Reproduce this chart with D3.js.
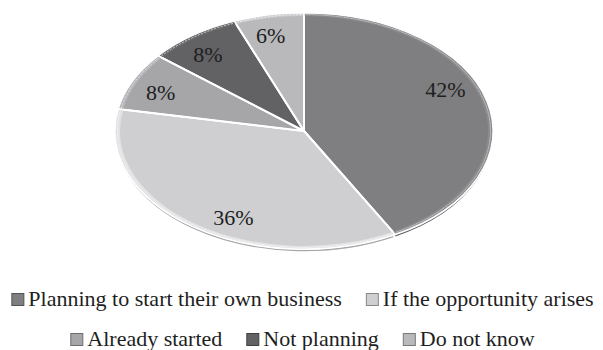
<!DOCTYPE html>
<html>
<head>
<meta charset="utf-8">
<script src="https://cdn.jsdelivr.net/npm/d3@7/dist/d3.min.js"></script>
<style>
  html, body { margin: 0; padding: 0; background: #fff; }
  svg { display: block; }
</style>
</head>
<body>
<svg id="chart" width="603" height="350"></svg>
<script>
// Career intentions, share of respondents (%)
const categories = [
  "Planning to start their own business",
  "If the opportunity arises",
  "Already started",
  "Not planning",
  "Do not know"
];
const values = [42, 36, 8, 8, 6];
const colors = ["#7f7f82", "#cfcfd1", "#a6a6a9", "#626264", "#b9b9bc"];
const legendRows = [[0, 1], [2, 3, 4]];

const FONT = "'Liberation Serif', 'Times New Roman', Tinos, 'DejaVu Serif', serif";
const W = 603, H = 350;
const cx = 304, cy = 131, rx = 189, ry = 118, depth = 3;
const svg = d3.select("#chart");

const pie = d3.pie().sort(null).value(d => d);
const arcs = pie(values);
const arc = d3.arc().innerRadius(0).outerRadius(rx);
const rim = d3.arc().innerRadius(rx - 5).outerRadius(rx);
const rimLine = d3.arc().innerRadius(rx - 2.5).outerRadius(rx - 2.5);

// side of the tilted disc, drawn a few pixels below the top surface
const sideLayer = svg.append("g")
  .attr("transform", `translate(${cx},${cy + depth}) scale(1,${ry / rx})`);
sideLayer.selectAll("path").data(arcs).join("path")
  .attr("d", arc)
  .attr("fill", (d, i) => d3.color(colors[i]).darker(0.6))
  .attr("stroke", "#fff")
  .attr("stroke-width", 1.5)
  .attr("vector-effect", "non-scaling-stroke");

// top surface of each slice
const topLayer = svg.append("g")
  .attr("transform", `translate(${cx},${cy}) scale(1,${ry / rx})`);
topLayer.selectAll("path.slice").data(arcs).join("path")
  .attr("class", "slice")
  .attr("d", arc)
  .attr("fill", (d, i) => colors[i])
  .attr("stroke", "#fff")
  .attr("stroke-width", 2)
  .attr("stroke-linejoin", "round")
  .attr("vector-effect", "non-scaling-stroke");

// bevelled rim along the outer edge
topLayer.selectAll("path.rim").data(arcs).join("path")
  .attr("class", "rim")
  .attr("d", rim)
  .attr("fill", (d, i) => d3.color(colors[i]).brighter(0.25))
  .attr("stroke", "none");
topLayer.selectAll("path.rimline").data(arcs).join("path")
  .attr("class", "rimline")
  .attr("d", d => rimLine({ ...d, startAngle: d.startAngle + 0.01, endAngle: d.endAngle - 0.01 }))
  .attr("fill", "none")
  .attr("stroke", "#ffffff")
  .attr("stroke-opacity", 0.45)
  .attr("stroke-width", 0.8)
  .attr("stroke-dasharray", "2,1.5")
  .attr("vector-effect", "non-scaling-stroke");
// thin white separators at the slice edges
topLayer.selectAll("path.sep").data(arcs).join("path")
  .attr("class", "sep")
  .attr("d", arc)
  .attr("fill", "none")
  .attr("stroke", "#fff")
  .attr("stroke-width", 1.2)
  .attr("vector-effect", "non-scaling-stroke");

// percentage labels, placed a little before each slice's mid angle
const labelAngle = d => d.startAngle + 0.43 * (d.endAngle - d.startAngle);
const labelR = 0.825;
svg.append("g").selectAll("text").data(arcs).join("text")
  .attr("x", d => cx + labelR * rx * Math.sin(labelAngle(d)))
  .attr("y", d => cy - labelR * ry * Math.cos(labelAngle(d)))
  .attr("text-anchor", "middle")
  .attr("dominant-baseline", "central")
  .attr("font-family", FONT)
  .attr("font-size", 22)
  .attr("fill", "#1e1e1e")
  .text(d => d.data + "%");

// legend, two centred rows
const sq = 12, sqGap = 4, itemGap = 24;
const baselines = [306, 346];
legendRows.forEach((row, r) => {
  const g = svg.append("g");
  let x = 0;
  row.forEach((idx, k) => {
    const item = g.append("g").attr("transform", `translate(${x},0)`);
    item.append("rect")
      .attr("x", 0.5).attr("y", baselines[r] - 12.5)
      .attr("width", sq).attr("height", sq)
      .attr("fill", colors[idx])
      .attr("stroke", d3.color(colors[idx]).darker(1.2))
      .attr("stroke-width", 1);
    const t = item.append("text")
      .attr("x", sq + sqGap + 1)
      .attr("y", baselines[r])
      .attr("font-family", FONT)
      .attr("font-size", 22)
      .attr("fill", "#1e1e1e")
      .text(categories[idx]);
    x += sq + sqGap + 1 + t.node().getComputedTextLength() + (k < row.length - 1 ? itemGap : 0);
  });
  g.attr("transform", `translate(${(W - x) / 2 + 1},0)`);
});
</script>
</body>
</html>
